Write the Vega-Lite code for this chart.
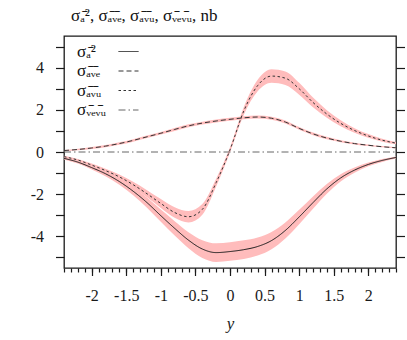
{
  "$schema": "https://vega.github.io/schema/vega-lite/v6.json",
  "width": 332,
  "height": 232,
  "autosize": {"type": "none"},
  "padding": {"left": 64, "top": 36, "right": 11, "bottom": 72},
  "title": {"text": "σₐ̄², σₐ̄ᵥ̄ₑ, σₐ̄ᵥ̄ᵤ, σᵥ̄ₑᵥ̄ᵤ, nb", "anchor": "start", "frame": "group", "dx": 7, "offset": 11, "font": "Liberation Serif", "fontSize": 17, "fontWeight": "normal", "color": "#111"},
  "datasets": {
    "curves": [
      {"series": "σₐ̄²", "x": -2.4, "v": -0.30, "lo": -0.35, "hi": -0.25},
      {"series": "σₐ̄²", "x": -2.2, "v": -0.48, "lo": -0.55, "hi": -0.41},
      {"series": "σₐ̄²", "x": -2.0, "v": -0.74, "lo": -0.83, "hi": -0.65},
      {"series": "σₐ̄²", "x": -1.8, "v": -1.03, "lo": -1.15, "hi": -0.91},
      {"series": "σₐ̄²", "x": -1.6, "v": -1.40, "lo": -1.55, "hi": -1.25},
      {"series": "σₐ̄²", "x": -1.4, "v": -1.86, "lo": -2.05, "hi": -1.67},
      {"series": "σₐ̄²", "x": -1.2, "v": -2.40, "lo": -2.64, "hi": -2.16},
      {"series": "σₐ̄²", "x": -1.0, "v": -3.02, "lo": -3.31, "hi": -2.73},
      {"series": "σₐ̄²", "x": -0.8, "v": -3.62, "lo": -3.96, "hi": -3.28},
      {"series": "σₐ̄²", "x": -0.6, "v": -4.18, "lo": -4.56, "hi": -3.80},
      {"series": "σₐ̄²", "x": -0.4, "v": -4.60, "lo": -5.02, "hi": -4.18},
      {"series": "σₐ̄²", "x": -0.2, "v": -4.77, "lo": -5.21, "hi": -4.33},
      {"series": "σₐ̄²", "x": 0.0, "v": -4.72, "lo": -5.16, "hi": -4.28},
      {"series": "σₐ̄²", "x": 0.2, "v": -4.63, "lo": -5.07, "hi": -4.19},
      {"series": "σₐ̄²", "x": 0.4, "v": -4.48, "lo": -4.91, "hi": -4.05},
      {"series": "σₐ̄²", "x": 0.6, "v": -4.20, "lo": -4.61, "hi": -3.79},
      {"series": "σₐ̄²", "x": 0.8, "v": -3.72, "lo": -4.10, "hi": -3.34},
      {"series": "σₐ̄²", "x": 1.0, "v": -3.08, "lo": -3.42, "hi": -2.74},
      {"series": "σₐ̄²", "x": 1.2, "v": -2.40, "lo": -2.69, "hi": -2.11},
      {"series": "σₐ̄²", "x": 1.4, "v": -1.75, "lo": -1.98, "hi": -1.52},
      {"series": "σₐ̄²", "x": 1.6, "v": -1.23, "lo": -1.40, "hi": -1.06},
      {"series": "σₐ̄²", "x": 1.8, "v": -0.86, "lo": -0.98, "hi": -0.74},
      {"series": "σₐ̄²", "x": 2.0, "v": -0.59, "lo": -0.68, "hi": -0.50},
      {"series": "σₐ̄²", "x": 2.2, "v": -0.40, "lo": -0.47, "hi": -0.33},
      {"series": "σₐ̄²", "x": 2.4, "v": -0.26, "lo": -0.31, "hi": -0.21},

      {"series": "σₐ̄ᵥ̄ₑ", "x": -2.4, "v": 0.07, "lo": 0.04, "hi": 0.10},
      {"series": "σₐ̄ᵥ̄ₑ", "x": -2.2, "v": 0.12, "lo": 0.08, "hi": 0.16},
      {"series": "σₐ̄ᵥ̄ₑ", "x": -2.0, "v": 0.19, "lo": 0.14, "hi": 0.24},
      {"series": "σₐ̄ᵥ̄ₑ", "x": -1.8, "v": 0.28, "lo": 0.23, "hi": 0.33},
      {"series": "σₐ̄ᵥ̄ₑ", "x": -1.6, "v": 0.40, "lo": 0.34, "hi": 0.46},
      {"series": "σₐ̄ᵥ̄ₑ", "x": -1.4, "v": 0.55, "lo": 0.49, "hi": 0.61},
      {"series": "σₐ̄ᵥ̄ₑ", "x": -1.2, "v": 0.72, "lo": 0.66, "hi": 0.78},
      {"series": "σₐ̄ᵥ̄ₑ", "x": -1.0, "v": 0.89, "lo": 0.83, "hi": 0.95},
      {"series": "σₐ̄ᵥ̄ₑ", "x": -0.8, "v": 1.07, "lo": 1.00, "hi": 1.14},
      {"series": "σₐ̄ᵥ̄ₑ", "x": -0.6, "v": 1.24, "lo": 1.17, "hi": 1.31},
      {"series": "σₐ̄ᵥ̄ₑ", "x": -0.4, "v": 1.37, "lo": 1.30, "hi": 1.44},
      {"series": "σₐ̄ᵥ̄ₑ", "x": -0.2, "v": 1.47, "lo": 1.40, "hi": 1.54},
      {"series": "σₐ̄ᵥ̄ₑ", "x": 0.0, "v": 1.55, "lo": 1.48, "hi": 1.62},
      {"series": "σₐ̄ᵥ̄ₑ", "x": 0.2, "v": 1.62, "lo": 1.55, "hi": 1.69},
      {"series": "σₐ̄ᵥ̄ₑ", "x": 0.4, "v": 1.66, "lo": 1.59, "hi": 1.73},
      {"series": "σₐ̄ᵥ̄ₑ", "x": 0.6, "v": 1.60, "lo": 1.53, "hi": 1.67},
      {"series": "σₐ̄ᵥ̄ₑ", "x": 0.8, "v": 1.42, "lo": 1.35, "hi": 1.49},
      {"series": "σₐ̄ᵥ̄ₑ", "x": 1.0, "v": 1.12, "lo": 1.06, "hi": 1.18},
      {"series": "σₐ̄ᵥ̄ₑ", "x": 1.2, "v": 0.86, "lo": 0.80, "hi": 0.92},
      {"series": "σₐ̄ᵥ̄ₑ", "x": 1.4, "v": 0.66, "lo": 0.60, "hi": 0.72},
      {"series": "σₐ̄ᵥ̄ₑ", "x": 1.6, "v": 0.51, "lo": 0.46, "hi": 0.56},
      {"series": "σₐ̄ᵥ̄ₑ", "x": 1.8, "v": 0.40, "lo": 0.36, "hi": 0.44},
      {"series": "σₐ̄ᵥ̄ₑ", "x": 2.0, "v": 0.32, "lo": 0.28, "hi": 0.36},
      {"series": "σₐ̄ᵥ̄ₑ", "x": 2.2, "v": 0.25, "lo": 0.22, "hi": 0.28},
      {"series": "σₐ̄ᵥ̄ₑ", "x": 2.4, "v": 0.20, "lo": 0.17, "hi": 0.23},

      {"series": "σₐ̄ᵥ̄ᵤ", "x": -2.4, "v": -0.22, "lo": -0.26, "hi": -0.18},
      {"series": "σₐ̄ᵥ̄ᵤ", "x": -2.2, "v": -0.38, "lo": -0.43, "hi": -0.33},
      {"series": "σₐ̄ᵥ̄ᵤ", "x": -2.0, "v": -0.62, "lo": -0.69, "hi": -0.55},
      {"series": "σₐ̄ᵥ̄ᵤ", "x": -1.8, "v": -0.88, "lo": -0.97, "hi": -0.79},
      {"series": "σₐ̄ᵥ̄ᵤ", "x": -1.6, "v": -1.18, "lo": -1.29, "hi": -1.07},
      {"series": "σₐ̄ᵥ̄ᵤ", "x": -1.4, "v": -1.55, "lo": -1.69, "hi": -1.41},
      {"series": "σₐ̄ᵥ̄ᵤ", "x": -1.2, "v": -1.98, "lo": -2.15, "hi": -1.81},
      {"series": "σₐ̄ᵥ̄ᵤ", "x": -1.0, "v": -2.44, "lo": -2.65, "hi": -2.23},
      {"series": "σₐ̄ᵥ̄ᵤ", "x": -0.8, "v": -2.87, "lo": -3.12, "hi": -2.62},
      {"series": "σₐ̄ᵥ̄ᵤ", "x": -0.6, "v": -3.07, "lo": -3.34, "hi": -2.80},
      {"series": "σₐ̄ᵥ̄ᵤ", "x": -0.4, "v": -2.72, "lo": -2.97, "hi": -2.47},
      {"series": "σₐ̄ᵥ̄ᵤ", "x": -0.2, "v": -1.45, "lo": -1.63, "hi": -1.27},
      {"series": "σₐ̄ᵥ̄ᵤ", "x": 0.0, "v": 0.10, "lo": -0.02, "hi": 0.22},
      {"series": "σₐ̄ᵥ̄ᵤ", "x": 0.2, "v": 1.95, "lo": 1.77, "hi": 2.13},
      {"series": "σₐ̄ᵥ̄ᵤ", "x": 0.4, "v": 3.15, "lo": 2.88, "hi": 3.42},
      {"series": "σₐ̄ᵥ̄ᵤ", "x": 0.6, "v": 3.60, "lo": 3.28, "hi": 3.92},
      {"series": "σₐ̄ᵥ̄ᵤ", "x": 0.8, "v": 3.50, "lo": 3.18, "hi": 3.82},
      {"series": "σₐ̄ᵥ̄ᵤ", "x": 1.0, "v": 3.00, "lo": 2.72, "hi": 3.28},
      {"series": "σₐ̄ᵥ̄ᵤ", "x": 1.2, "v": 2.35, "lo": 2.12, "hi": 2.58},
      {"series": "σₐ̄ᵥ̄ᵤ", "x": 1.4, "v": 1.80, "lo": 1.62, "hi": 1.98},
      {"series": "σₐ̄ᵥ̄ᵤ", "x": 1.6, "v": 1.36, "lo": 1.22, "hi": 1.50},
      {"series": "σₐ̄ᵥ̄ᵤ", "x": 1.8, "v": 1.02, "lo": 0.91, "hi": 1.13},
      {"series": "σₐ̄ᵥ̄ᵤ", "x": 2.0, "v": 0.76, "lo": 0.67, "hi": 0.85},
      {"series": "σₐ̄ᵥ̄ᵤ", "x": 2.2, "v": 0.56, "lo": 0.49, "hi": 0.63},
      {"series": "σₐ̄ᵥ̄ᵤ", "x": 2.4, "v": 0.42, "lo": 0.37, "hi": 0.47},

      {"series": "σᵥ̄ₑᵥ̄ᵤ", "x": -2.4, "v": 0.0},
      {"series": "σᵥ̄ₑᵥ̄ᵤ", "x": 2.4, "v": 0.0}
    ]
  },
  "data": {"name": "curves"},
  "layer": [
    {
      "transform": [{"filter": "isValid(datum.lo)"}],
      "mark": {"type": "area", "color": "#ffbcbc", "interpolate": "monotone", "opacity": 1},
      "encoding": {
        "x": {"field": "x", "type": "quantitative",
              "scale": {"domain": [-2.4, 2.4], "nice": false, "zero": false},
              "axis": {"orient": "bottom", "values": [-2, -1.5, -1, -0.5, 0, 0.5, 1, 1.5, 2], "tickSize": 7.5, "labelPadding": 12, "labelExpr": "'' + datum.value", "labelOverlap": false, "labelFlush": false, "title": "y", "titleFontStyle": "italic", "titlePadding": 12}},
        "y": {"field": "lo", "type": "quantitative",
              "scale": {"domain": [-5.5, 5.5], "nice": false, "zero": false},
              "axis": {"orient": "left", "values": [-5, -4, -3, -2, -1, 0, 1, 2, 3, 4, 5], "tickSize": 8.5, "labelPadding": 12, "labelExpr": "datum.value % 2 == 0 ? '' + datum.value : ''", "labelOverlap": false, "labelFlush": false, "title": null}},
        "y2": {"field": "hi"},
        "detail": {"field": "series"}
      }
    },
    {
      "mark": {"type": "line", "strokeWidth": 1, "interpolate": "monotone"},
      "encoding": {
        "x": {"field": "x", "type": "quantitative", "scale": {"domain": [-2.4, 2.4], "nice": false, "zero": false}, "axis": null},
        "y": {"field": "v", "type": "quantitative", "scale": {"domain": [-5.5, 5.5], "nice": false, "zero": false}, "axis": null},
        "strokeDash": {"field": "series", "type": "nominal",
          "scale": {"domain": ["σₐ̄²", "σₐ̄ᵥ̄ₑ", "σₐ̄ᵥ̄ᵤ", "σᵥ̄ₑᵥ̄ᵤ"], "range": [[1, 0], [5, 3], [2.5, 2.5], [7, 3, 1.5, 3]]},
          "legend": {"title": null, "orient": "none", "legendX": 12, "legendY": 5, "symbolType": "stroke", "symbolSize": 400, "symbolStrokeWidth": 1, "labelFont": "Liberation Serif", "labelFontSize": 17, "labelColor": "#111", "labelOffset": -62, "symbolOffset": 42, "rowPadding": 0.5, "padding": 0}},
        "color": {"field": "series", "type": "nominal",
          "scale": {"domain": ["σₐ̄²", "σₐ̄ᵥ̄ₑ", "σₐ̄ᵥ̄ᵤ", "σᵥ̄ₑᵥ̄ᵤ"], "range": ["#1a1a1a", "#333333", "#333333", "#666666"]},
          "legend": {"title": null, "orient": "none", "legendX": 12, "legendY": 5, "symbolType": "stroke", "symbolSize": 400, "symbolStrokeWidth": 1, "labelFont": "Liberation Serif", "labelFontSize": 17, "labelColor": "#111", "labelOffset": -62, "symbolOffset": 42, "rowPadding": 0.5, "padding": 0}}
      }
    },
    {
      "mark": {"type": "line", "opacity": 0},
      "encoding": {
        "x": {"field": "x", "type": "quantitative", "scale": {"domain": [-2.4, 2.4], "nice": false, "zero": false},
              "axis": {"orient": "bottom", "values": [-2.4, -2.3, -2.2, -2.1, -2, -1.9, -1.8, -1.7, -1.6, -1.5, -1.4, -1.3, -1.2, -1.1, -1, -0.9, -0.8, -0.7, -0.6, -0.5, -0.4, -0.3, -0.2, -0.1, 0, 0.1, 0.2, 0.3, 0.4, 0.5, 0.6, 0.7, 0.8, 0.9, 1, 1.1, 1.2, 1.3, 1.4, 1.5, 1.6, 1.7, 1.8, 1.9, 2, 2.1, 2.2, 2.3, 2.4], "tickSize": 4, "labels": false, "title": null}},
        "y": {"field": "v", "type": "quantitative", "scale": {"domain": [-5.5, 5.5], "nice": false, "zero": false},
              "axis": {"orient": "right", "values": [-5, -4, -3, -2, -1, 0, 1, 2, 3, 4, 5], "tickSize": 8.5, "labels": false, "title": null}},
        "detail": {"field": "series"}
      }
    }
  ],
  "resolve": {"axis": {"x": "independent", "y": "independent"}},
  "config": {
    "view": {"stroke": "#1a1a1a", "strokeWidth": 1.3},
    "axis": {"domain": false, "grid": false, "tickColor": "#1a1a1a", "tickWidth": 1.2, "labelFont": "Liberation Serif", "labelFontSize": 16, "labelColor": "#1a1a1a", "titleFont": "Liberation Serif", "titleFontSize": 17, "titleFontWeight": "normal", "titleColor": "#1a1a1a"}
  }
}
